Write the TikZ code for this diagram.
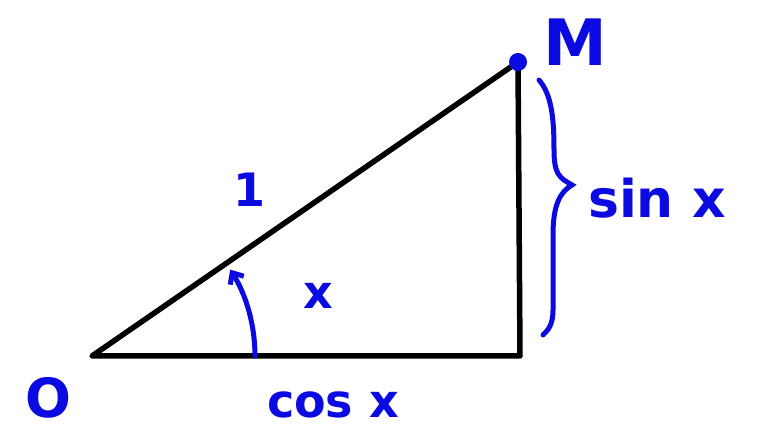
\documentclass[tikz,border=0pt]{standalone}
\usepackage{fontspec}
\setmainfont{DejaVu Sans}
\usetikzlibrary{arrows.meta}
\definecolor{pen}{RGB}{10,10,225}
\begin{document}
\begin{tikzpicture}[x=1pt,y=-1pt,
  side/.style={line width=5.5pt,line cap=round,line join=round,black},
  ink/.style={line width=5pt,line cap=round,pen},
  lab/.style={text=pen,font=\bfseries\fontsize{46}{46}\selectfont,inner sep=0pt}]
\useasboundingbox[fill=white] (0,0) rectangle (771,435);
\coordinate (O) at (92,356);
\coordinate (C) at (520,356);
\coordinate (M) at (518,62);
\draw[side] (O) -- (C) -- (M) -- cycle;
\fill[pen] (M) circle (9);
% angle arc
\coordinate (A0) at (255,356);
\draw[ink,-{Straight Barb[length=9pt,width=16pt]}] (A0) arc[start angle=0,end angle=-32,radius=163] coordinate (A1);
% brace
\coordinate (B0) at (539,80);
\coordinate (B1) at (572,185);
\coordinate (B2) at (543,335);
\draw[ink] (B0) .. controls (552,95) and (554,120) .. (554,150)
  .. controls (554,175) and (560,178) .. (B1)
  .. controls (560,192) and (553,205) .. (553,235)
  -- (553,310) .. controls (553,325) and (548,330) .. (B2);
\node[lab,anchor=west,font=\bfseries\fontsize{52}{52}\selectfont] (sin) at (588,198) {sin x};
\node[lab,font=\bfseries\fontsize{64}{64}\selectfont] (Mlab) at (575,42) {M};
\node[lab] (one) at (250,190) {1};
\node[lab] (xl) at (318,296) {x};
\node[lab,font=\bfseries\fontsize{54}{54}\selectfont] (Olab) at (48,398) {O};
\node[lab] (cos) at (333,405) {cos x};
\end{tikzpicture}
\end{document}
